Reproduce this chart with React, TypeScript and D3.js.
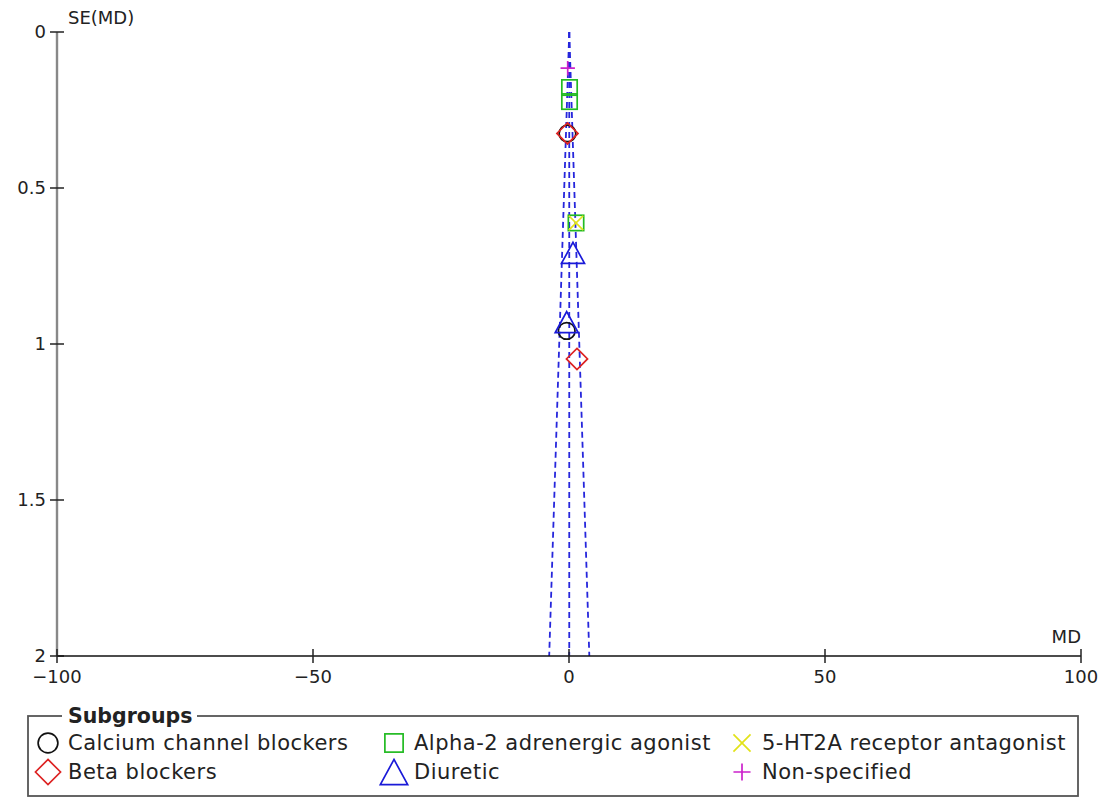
import React from "react";
import * as d3 from "d3";

// Subgroup names and colours
const subgroups = [
  "Calcium channel blockers",
  "Beta blockers",
  "Alpha-2 adrenergic agonist",
  "Diuretic",
  "5-HT2A receptor antagonist",
  "Non-specified",
];
const subgroupShapes = ["circle", "diamond", "square", "triangle", "cross", "plus"];
const subgroupColors = ["#111111", "#dd2222", "#22bb22", "#1a1ad8", "#e2e21a", "#cc22cc"];

// Study estimates: mean difference and its standard error, per subgroup
const studyGroup = [0, 0, 1, 1, 2, 2, 2, 3, 3, 4, 5];
const studyMD = [-0.3, -0.45, -0.3, 1.56, 0.1, 0.1, 1.37, 0.78, -0.45, 1.37, -0.25];
const studySE = [0.325, 0.958, 0.325, 1.048, 0.178, 0.223, 0.612, 0.708, 0.93, 0.612, 0.116];

// Pooled estimate for the funnel
const pooledMD = 0.05;
const seMax = 2;

const xTicks = [-100, -50, 0, 50, 100];
const yTicks = [0, 0.5, 1, 1.5, 2];

const FONT = "'DejaVu Sans', 'Open Sans', sans-serif";

function Marker({ shape, color, cx, cy, s }: { shape: string; color: string; cx: number; cy: number; s: number }) {
  const sw = 1.7;
  if (shape === "circle") return <circle cx={cx} cy={cy} r={s * 0.52} fill="none" stroke={color} strokeWidth={sw} />;
  if (shape === "square")
    return <rect x={cx - s * 0.48} y={cy - s * 0.48} width={s * 0.96} height={s * 0.96} fill="none" stroke={color} strokeWidth={sw} />;
  if (shape === "diamond") {
    const r = s * 0.66;
    return <path d={`M${cx},${cy - r}L${cx + r},${cy}L${cx},${cy + r}L${cx - r},${cy}Z`} fill="none" stroke={color} strokeWidth={sw} />;
  }
  if (shape === "triangle") {
    const w = s * 0.72, h = s * 0.66;
    return <path d={`M${cx},${cy - h}L${cx + w},${cy + h}L${cx - w},${cy + h}Z`} fill="none" stroke={color} strokeWidth={sw} />;
  }
  if (shape === "cross") {
    const r = s * 0.45;
    return <path d={`M${cx - r},${cy - r}L${cx + r},${cy + r}M${cx - r},${cy + r}L${cx + r},${cy - r}`} stroke={color} strokeWidth={sw} />;
  }
  const r = s * 0.45;
  return <path d={`M${cx - r},${cy}L${cx + r},${cy}M${cx},${cy - r}L${cx},${cy + r}`} stroke={color} strokeWidth={sw} />;
}

export default function App() {
  const width = 1108, height = 798;
  const x = d3.scaleLinear().domain([-100, 100]).range([57, 1081]);
  const y = d3.scaleLinear().domain([0, seMax]).range([32, 656]);

  const funnel = [-1, 0, 1].map((k) => [
    [x(pooledMD), y(0)],
    [x(pooledMD + k * 1.96 * seMax), y(seMax)],
  ]);
  const line = d3.line();

  // legend layout: three columns, two rows
  const legendCols = [48, 394, 742];
  const legendRows = [743, 772];
  const legendFont = 21;
  const axisFont = 18;

  return (
    <svg width={width} height={height} style={{ position: "absolute", left: 0, top: 0 }} fontFamily={FONT}>
      <rect width={width} height={height} fill="#fff" />

      {/* funnel lines */}
      {funnel.map((pts, i) => (
        <path key={i} d={line(pts as [number, number][]) || ""} fill="none" stroke="#2626dc" strokeWidth={1.8} strokeDasharray="6,4" />
      ))}

      {/* y axis */}
      <line x1={x(-100)} x2={x(-100)} y1={y(0)} y2={y(seMax)} stroke="#888" strokeWidth={2.4} />
      {yTicks.map((t) => (
        <g key={t}>
          <line x1={x(-100) - 7} x2={x(-100) + 7} y1={y(t)} y2={y(t)} stroke="#222" strokeWidth={1.5} />
          <text x={x(-100) - 11} y={y(t)} dy="0.35em" textAnchor="end" fontSize={axisFont} fill="#222">
            {t}
          </text>
        </g>
      ))}
      <text x={68} y={18} dy="0.35em" fontSize={axisFont} fill="#222">SE(MD)</text>

      {/* x axis */}
      <line x1={x(-100)} x2={x(100)} y1={y(seMax)} y2={y(seMax)} stroke="#111" strokeWidth={1.7} />
      {xTicks.map((t) => (
        <g key={t}>
          <line x1={x(t)} x2={x(t)} y1={y(seMax) - 7} y2={y(seMax) + 7} stroke="#222" strokeWidth={1.5} />
          <text x={x(t)} y={y(seMax) + 21} dy="0.35em" textAnchor="middle" fontSize={axisFont} fill="#222">
            {t < 0 ? "\u2212" + Math.abs(t) : t}
          </text>
        </g>
      ))}
      <text x={x(100)} y={637} dy="0.35em" textAnchor="end" fontSize={axisFont} fill="#222">MD</text>

      {/* study points */}
      {studyMD.map((md, i) => (
        <Marker
          key={i}
          shape={subgroupShapes[studyGroup[i]]}
          color={subgroupColors[studyGroup[i]]}
          cx={x(md)}
          cy={y(studySE[i])}
          s={16}
        />
      ))}

      {/* legend */}
      <rect x={28} y={716} width={1050} height={80} fill="none" stroke="#555" strokeWidth={1.8} />
      <rect x={62} y={704} width={135} height={24} fill="#fff" />
      <text x={68} y={716} dy="0.35em" fontSize={legendFont - 0.5} fontWeight="bold" fill="#222">Subgroups</text>
      {subgroups.map((name, i) => {
        const col = Math.floor(i / 2);
        const row = i % 2;
        const sx = legendCols[col];
        const sy = legendRows[row];
        return (
          <g key={name}>
            <Marker shape={subgroupShapes[i]} color={subgroupColors[i]} cx={sx} cy={sy} s={19} />
            <text x={sx + 20} y={sy} dy="0.35em" fontSize={legendFont} letterSpacing={0.5} fill="#222">
              {name}
            </text>
          </g>
        );
      })}
    </svg>
  );
}
